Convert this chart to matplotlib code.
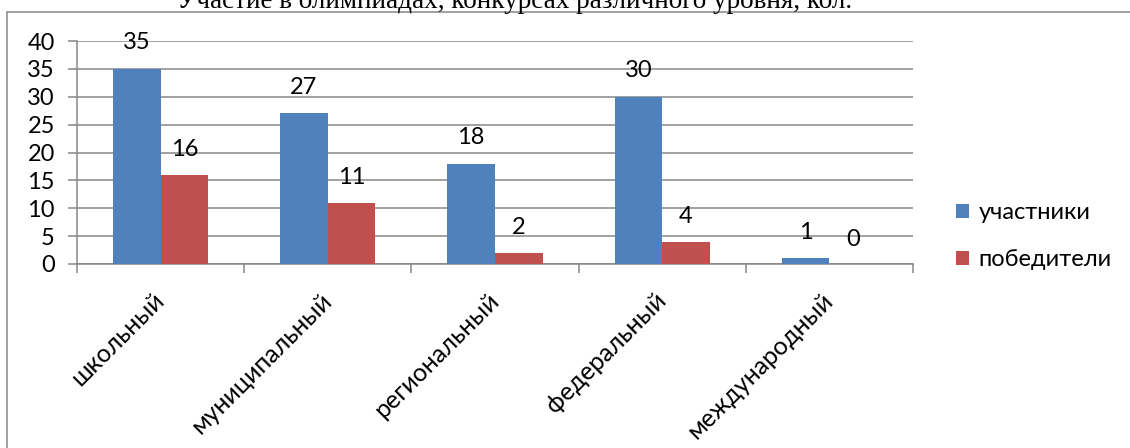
import matplotlib
matplotlib.use("Agg")
import matplotlib.pyplot as plt
import numpy as np
from matplotlib.patches import Rectangle
from matplotlib.transforms import ScaledTranslation

categories = ["школьный", "муниципальный", "региональный", "федеральный", "международный"]
participants = [35, 27, 18, 30, 1]
winners = [16, 11, 2, 4, 0]
series_names = ["участники", "победители"]
yticks = [0, 5, 10, 15, 20, 25, 30, 35, 40]
title = "Участие в олимпиадах, конкурсах различного уровня, кол."

BLUE = "#4F81BD"
RED = "#C0504D"
GRID = "#878787"
FONT = ["Lato", "DejaVu Sans"]

plt.rcParams["font.family"] = FONT

fig = plt.figure(figsize=(11.3, 4.48), dpi=100)
ax = fig.add_axes([77/1130, 1 - 264/448, (913 - 77)/1130, (264 - 41)/448])

x = np.arange(len(categories))
w = 0.285
b1 = ax.bar(x - w/2, participants, w, color=BLUE, label=series_names[0], zorder=3)
b2 = ax.bar(x + w/2, winners, w, color=RED, label=series_names[1], zorder=3)

fs = 17
for rect, v in zip(b1, participants):
    ax.annotate(str(v), (rect.get_x() + rect.get_width()/2, v), xytext=(0, 19),
                textcoords="offset points", ha="center", va="center", fontsize=fs, zorder=4)
for rect, v in zip(b2, winners):
    ax.annotate(str(v), (rect.get_x() + rect.get_width()/2, v), xytext=(0, 18),
                textcoords="offset points", ha="center", va="center", fontsize=fs, zorder=4)

ax.set_xlim(-0.5, len(categories) - 0.5)
ax.set_ylim(0, 40)
ax.set_yticks(yticks)
ax.set_yticklabels([str(t) for t in yticks], fontsize=fs)
ax.yaxis.grid(True, color=GRID, linewidth=1.1, zorder=0)
ax.set_axisbelow(True)

ax.set_xticks(x)
ax.set_xticklabels(categories, rotation=45, ha="right", va="center",
                   rotation_mode="anchor", fontsize=18)
ax.tick_params(axis="x", length=0, pad=22)
shift = ScaledTranslation(0/100, -2/100, fig.dpi_scale_trans)
for lbl in ax.get_xticklabels():
    lbl.set_transform(lbl.get_transform() + shift)
# boundary ticks between categories
ax.set_xticks(np.arange(-0.5, len(categories), 1.0), minor=True)
ax.tick_params(axis="x", which="minor", length=6.5, color=GRID, width=1.1, direction="out")
ax.tick_params(axis="y", length=6.5, color=GRID, width=1.1, pad=9.5)

for s in ["top", "right"]:
    ax.spines[s].set_visible(False)
for s in ["left", "bottom"]:
    ax.spines[s].set_color(GRID)
    ax.spines[s].set_linewidth(1.1)

leg = fig.legend(handles=[b1, b2], labels=series_names, loc="center left",
                 bbox_to_anchor=(935/1130, 1 - 236/448), frameon=False, fontsize=fs,
                 handlelength=0.55, handleheight=0.55, handletextpad=0.4, labelspacing=1.1)

# outer chart border
fig.patches.append(Rectangle((7/1130, -0.05), 1.2, 1 - 12/448 + 0.05, transform=fig.transFigure,
                             fill=False, edgecolor=GRID, linewidth=1.1, clip_on=False))

fig.text(515/1130, 1 - 8/448, title, ha="center", va="baseline",
         fontsize=19.5, family=["Liberation Serif", "DejaVu Serif"])

fig.savefig("out.png", dpi=100)
